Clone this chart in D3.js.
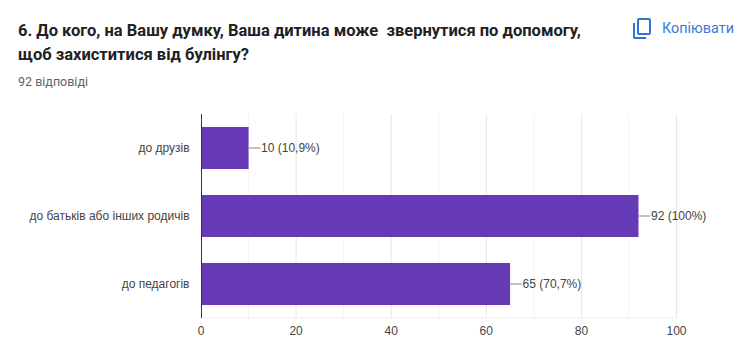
<!DOCTYPE html>
<html>
<head>
<meta charset="utf-8">
<script src="https://cdn.jsdelivr.net/npm/d3@7"></script>
<style>
  html, body { margin: 0; background: #fff; overflow: hidden; }
  text { font-family: "Liberation Sans", Arial, sans-serif; }
  .title { font-family: Roboto, sans-serif; font-size: 16.5px; font-weight: 700; fill: #202124; }
  .sub { font-family: Roboto, sans-serif; font-size: 12.5px; fill: #5f6368; }
  .copy { font-family: Roboto, sans-serif; font-size: 14.4px; font-weight: 400; fill: #3b78d8; }
</style>
</head>
<body>
<div id="main"></div>
<script>
const categories = ['до друзів', 'до батьків або інших родичів', 'до педагогів'];
const values = [10, 92, 65];
const valueLabels = ['10 (10,9%)', '92 (100%)', '65 (70,7%)'];
const majorTicks = [0, 20, 40, 60, 80, 100];
const minorTicks = [10, 30, 50, 70, 90];

const svg = d3.select('#main').append('svg')
  .attr('width', 747)
  .attr('height', 361)
  .style('display', 'block');

svg.append('text').attr('class', 'title').attr('x', 18).attr('y', 36)
  .text('6. До кого, на Вашу думку, Ваша дитина може  звернутися по допомогу,')
  .style('white-space', 'pre');
svg.append('text').attr('class', 'title').attr('x', 18).attr('y', 60)
  .text('щоб захиститися від булінгу?');
svg.append('text').attr('class', 'sub').attr('x', 18).attr('y', 86)
  .text('92 відповіді');

// copy icon
const icon = svg.append('g').attr('fill', 'none').attr('stroke', '#2f74d6').attr('stroke-width', 2);
icon.append('rect').attr('x', 638).attr('y', 19).attr('width', 12).attr('height', 15).attr('rx', 1);
icon.append('path').attr('d', 'M634 23V37a1 1 0 0 0 1 1H646');
svg.append('text').attr('class', 'copy').attr('x', 662).attr('y', 33).text('Копіювати');

const x = d3.scaleLinear().domain([0, 100]).range([201, 676.5]);
const y = d3.scaleBand().domain(categories).range([114, 318]).paddingInner(0.382).paddingOuter(0.191);

svg.append('g').selectAll('line').data(minorTicks).enter().append('line')
  .attr('x1', d => x(d)).attr('x2', d => x(d))
  .attr('y1', 114).attr('y2', 318)
  .attr('stroke', '#f3f3f3');
svg.append('g').selectAll('line').data(majorTicks.slice(1)).enter().append('line')
  .attr('x1', d => x(d)).attr('x2', d => x(d))
  .attr('y1', 114).attr('y2', 318)
  .attr('stroke', '#e6e6e6');
svg.append('line')
  .attr('x1', x(0)).attr('x2', x(100))
  .attr('y1', 318).attr('y2', 318)
  .attr('stroke', '#eeeeee');

svg.append('g').selectAll('rect').data(values).enter().append('rect')
  .attr('x', x(0))
  .attr('y', (d, i) => y(categories[i]))
  .attr('width', d => x(d) - x(0))
  .attr('height', y.bandwidth())
  .attr('fill', '#673ab7');

svg.append('line')
  .attr('x1', x(0) + 0.5).attr('x2', x(0) + 0.5)
  .attr('y1', 114).attr('y2', 318)
  .attr('stroke', '#333');

// category labels
svg.append('g').selectAll('text').data(categories).enter().append('text')
  .attr('x', 189.5)
  .attr('y', d => y(d) + y.bandwidth() / 2 + 4)
  .attr('text-anchor', 'end')
  .attr('font-size', 12)
  .attr('fill', '#444')
  .text(d => d);

// x axis labels
svg.append('g').selectAll('text').data(majorTicks).enter().append('text')
  .attr('x', d => x(d))
  .attr('y', 335)
  .attr('text-anchor', 'middle')
  .attr('font-size', 12)
  .attr('fill', '#444')
  .text(d => d);

// value callouts
svg.append('g').selectAll('line').data(values).enter().append('line')
  .attr('x1', d => x(d))
  .attr('x2', d => x(d) + 12)
  .attr('y1', (d, i) => y(categories[i]) + y.bandwidth() / 2)
  .attr('y2', (d, i) => y(categories[i]) + y.bandwidth() / 2)
  .attr('stroke', '#888');
svg.append('g').selectAll('text').data(values).enter().append('text')
  .attr('x', d => x(d) + 12.5)
  .attr('y', (d, i) => y(categories[i]) + y.bandwidth() / 2 + 4)
  .attr('font-size', 12)
  .attr('fill', '#444')
  .text((d, i) => valueLabels[i]);
</script>
</body>
</html>
